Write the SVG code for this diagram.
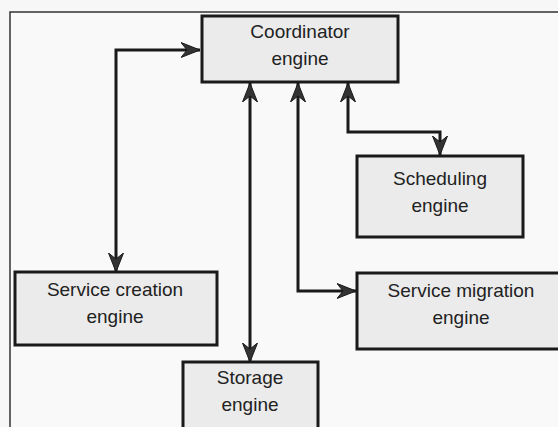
<svg xmlns="http://www.w3.org/2000/svg" width="558" height="427" viewBox="0 0 558 427">
<style>
.node rect{fill:#ebebeb;stroke:#1a1a1a;stroke-width:3}
.node text{font-family:"Liberation Sans",Arial,sans-serif;font-size:19px;fill:#222;text-anchor:middle}
.conn path{fill:none;stroke:#1a1a1a;stroke-width:3}
</style>
<defs>
<marker id="ah" markerUnits="userSpaceOnUse" markerWidth="20" markerHeight="18" viewBox="0 0 20 18" refX="19" refY="9" orient="auto-start-reverse">
<path d="M0,1.5 L19,9 L0,16.5 L6,9 z" fill="#333" stroke="#1a1a1a" stroke-width="1"/>
</marker>
</defs>
<rect x="0" y="0" width="558" height="427" fill="#f7f7f7"/>
<rect x="10" y="12" width="560" height="430" fill="#f9f9f9" stroke="#333" stroke-width="1.5"/>
<g class="conn" id="connectors">
<path d="M200,50 H116 V272" marker-start="url(#ah)" marker-end="url(#ah)"/>
<path d="M250,83 V362" marker-start="url(#ah)" marker-end="url(#ah)"/>
<path d="M298,83 V291 H356" marker-start="url(#ah)" marker-end="url(#ah)"/>
<path d="M348,83 V132 H440 V155" marker-start="url(#ah)" marker-end="url(#ah)"/>
</g>
<g class="node" id="coordinator">
<rect x="202" y="16" width="196" height="66"/>
<text x="300" y="38">Coordinator</text>
<text x="300" y="65">engine</text>
</g>
<g class="node" id="scheduling">
<rect x="357" y="156" width="166" height="81"/>
<text x="440" y="185">Scheduling</text>
<text x="440" y="212">engine</text>
</g>
<g class="node" id="service-creation">
<rect x="15" y="272" width="202" height="73"/>
<text x="115" y="296">Service creation</text>
<text x="115" y="323">engine</text>
</g>
<g class="node" id="service-migration">
<rect x="357" y="273" width="210" height="76"/>
<text x="461" y="297">Service migration</text>
<text x="461" y="324">engine</text>
</g>
<g class="node" id="storage">
<rect x="183" y="362" width="135" height="70"/>
<text x="250" y="384">Storage</text>
<text x="250" y="411">engine</text>
</g>
</svg>
